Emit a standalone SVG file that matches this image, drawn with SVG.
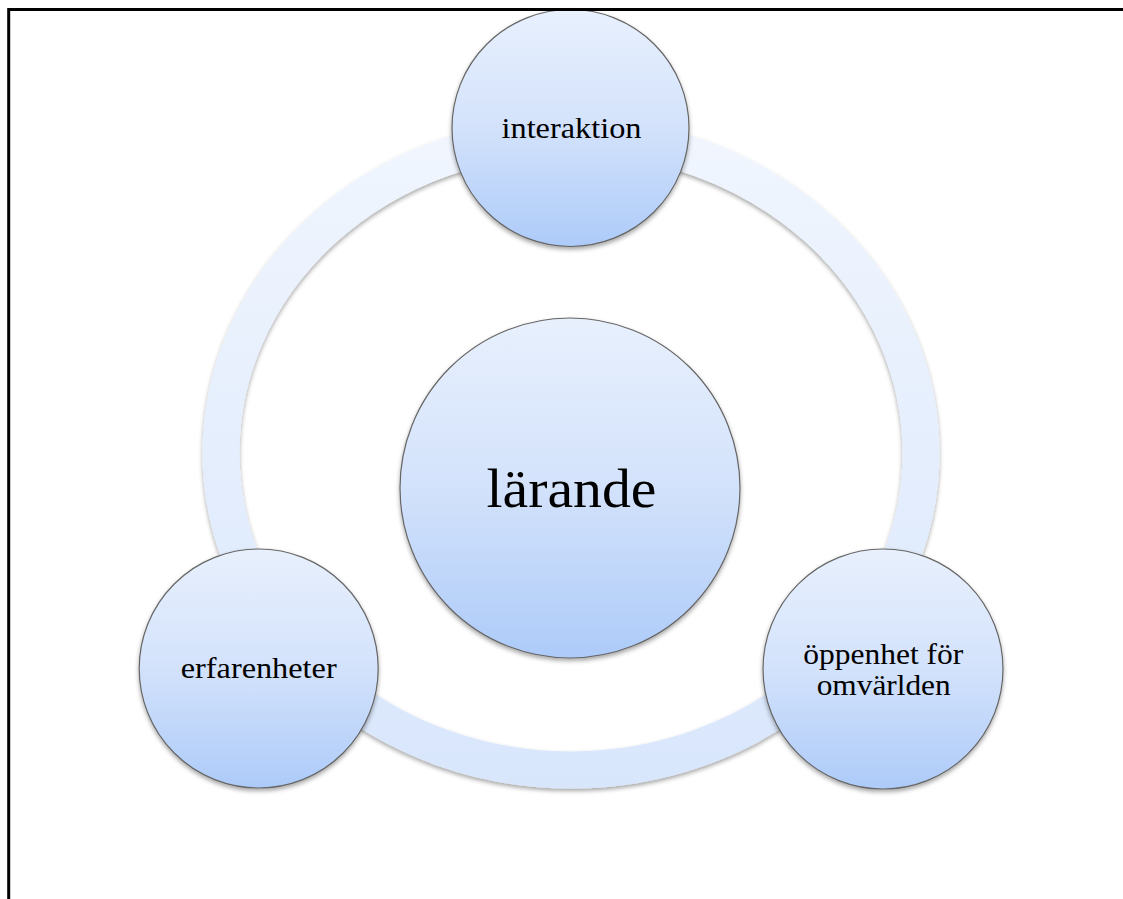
<svg xmlns="http://www.w3.org/2000/svg" width="1123" height="899" viewBox="0 0 1123 899">
  <defs>
    <linearGradient id="nodeFill" x1="0" y1="0" x2="0" y2="1">
      <stop offset="0" stop-color="#e8f0fd"/>
      <stop offset="0.5" stop-color="#d3e2fb"/>
      <stop offset="1" stop-color="#adcbf9"/>
    </linearGradient>
    <linearGradient id="ringFill" gradientUnits="userSpaceOnUse" x1="0" y1="120" x2="0" y2="790">
      <stop offset="0" stop-color="#f1f6fe"/>
      <stop offset="1" stop-color="#d8e6fc"/>
    </linearGradient>
    <filter id="shadow" x="-10%" y="-10%" width="120%" height="125%">
      <feDropShadow dx="0" dy="2.5" stdDeviation="2" flood-color="#000" flood-opacity="0.35"/>
    </filter>
    <style>
      .node { fill: url(#nodeFill); stroke: #666; stroke-width: 1.2; filter: url(#shadow); }
      .label { font-family: "Liberation Serif", "Times New Roman", serif; fill: #000; text-anchor: middle; }
      .small { font-size: 30px; }
      .big { font-size: 54px; }
    </style>
  </defs>

  <rect width="1123" height="899" fill="#fff"/>

  <!-- cycle ring behind the nodes -->
  <g id="connectors">
    <ellipse cx="571" cy="453" rx="350" ry="317" fill="none" stroke="url(#ringFill)" stroke-width="37" filter="url(#shadow)"/>
  </g>

  <g id="node-larande">
    <circle class="node" cx="570" cy="488" r="170"/>
    <text class="label big" x="571.5" y="507" textLength="170" lengthAdjust="spacingAndGlyphs">lärande</text>
  </g>

  <g id="node-interaktion">
    <circle class="node" cx="570.5" cy="128" r="118.5"/>
    <text class="label small" x="571.5" y="138" textLength="140" lengthAdjust="spacingAndGlyphs">interaktion</text>
  </g>

  <g id="node-erfarenheter">
    <circle class="node" cx="258.7" cy="668.5" r="119.5"/>
    <text class="label small" x="258.7" y="678" textLength="156" lengthAdjust="spacingAndGlyphs">erfarenheter</text>
  </g>

  <g id="node-oppenhet">
    <circle class="node" cx="883" cy="669" r="120"/>
    <text class="label small" x="883.3" y="664" textLength="160" lengthAdjust="spacingAndGlyphs">öppenhet för</text>
    <text class="label small" x="883.7" y="695" textLength="134" lengthAdjust="spacingAndGlyphs">omvärlden</text>
  </g>

  <!-- page frame edges -->
  <path d="M8.7 899 V9.5 H1123" fill="none" stroke="#000" stroke-width="3"/>
</svg>
